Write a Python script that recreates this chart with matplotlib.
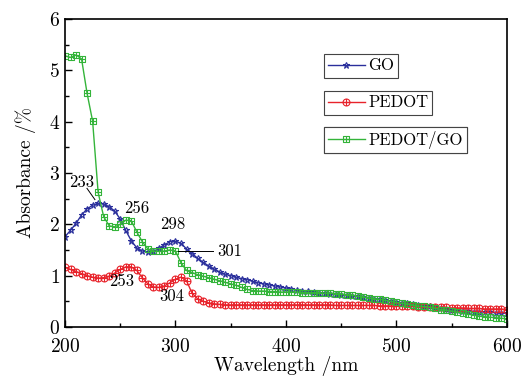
import matplotlib
matplotlib.use("Agg")
import matplotlib.pyplot as plt
from matplotlib.path import Path
from matplotlib.ticker import MultipleLocator

plt.rcParams['font.family'] = ['cmr10', 'DejaVu Serif']
plt.rcParams['mathtext.fontset'] = 'cm'
plt.rcParams['axes.formatter.use_mathtext'] = True

# wavelength grid (nm)
wavelength = [200, 205, 210, 215, 220, 225, 230, 235, 240, 245,
              250, 255, 260, 265, 270, 275, 280, 285, 290, 295,
              300, 305, 310, 315, 320, 325, 330, 335, 340, 345,
              350, 355, 360, 365, 370, 375, 380, 385, 390, 395,
              400, 405, 410, 415, 420, 425, 430, 435, 440, 445,
              450, 455, 460, 465, 470, 475, 480, 485, 490, 495,
              500, 505, 510, 515, 520, 525, 530, 535, 540, 545,
              550, 555, 560, 565, 570, 575, 580, 585, 590, 595, 600]

go = [1.76, 1.88, 2.02, 2.18, 2.30, 2.37, 2.41, 2.40, 2.34, 2.26,
      2.10, 1.88, 1.68, 1.54, 1.48, 1.46, 1.47, 1.53, 1.60, 1.66,
      1.67, 1.63, 1.52, 1.43, 1.34, 1.26, 1.19, 1.13, 1.07, 1.03,
      1.00, 0.97, 0.94, 0.92, 0.89, 0.86, 0.84, 0.82, 0.80, 0.78,
      0.76, 0.74, 0.72, 0.71, 0.70, 0.68, 0.67, 0.66, 0.65, 0.64,
      0.63, 0.62, 0.61, 0.60, 0.58, 0.57, 0.55, 0.54, 0.52, 0.50,
      0.49, 0.47, 0.46, 0.44, 0.43, 0.41, 0.40, 0.38, 0.36, 0.35,
      0.34, 0.33, 0.32, 0.31, 0.30, 0.30, 0.29, 0.29, 0.28, 0.27, 0.27]

pedot = [1.16, 1.12, 1.08, 1.04, 1.00, 0.97, 0.95, 0.96, 0.99, 1.05,
         1.12, 1.17, 1.17, 1.10, 0.96, 0.84, 0.78, 0.77, 0.80, 0.86,
         0.93, 0.97, 0.90, 0.66, 0.55, 0.50, 0.47, 0.45, 0.44, 0.43,
         0.43, 0.43, 0.43, 0.43, 0.43, 0.43, 0.43, 0.43, 0.43, 0.43,
         0.43, 0.43, 0.43, 0.43, 0.43, 0.43, 0.43, 0.43, 0.43, 0.42,
         0.42, 0.42, 0.42, 0.42, 0.42, 0.42, 0.42, 0.41, 0.41, 0.41,
         0.41, 0.40, 0.40, 0.40, 0.39, 0.39, 0.39, 0.38, 0.38, 0.38,
         0.37, 0.37, 0.37, 0.36, 0.36, 0.36, 0.35, 0.35, 0.35, 0.35, 0.34]

pedot_go = [5.28, 5.25, 5.30, 5.22, 4.55, 4.01, 2.62, 2.15, 1.97, 1.95,
            2.00, 2.08, 2.07, 1.85, 1.66, 1.52, 1.48, 1.47, 1.48, 1.50,
            1.48, 1.25, 1.10, 1.06, 1.02, 0.99, 0.96, 0.93, 0.90, 0.87,
            0.84, 0.81, 0.77, 0.73, 0.71, 0.70, 0.70, 0.69, 0.69, 0.68,
            0.68, 0.68, 0.68, 0.67, 0.67, 0.67, 0.67, 0.66, 0.66, 0.65,
            0.64, 0.63, 0.62, 0.60, 0.59, 0.57, 0.55, 0.54, 0.52, 0.50,
            0.48, 0.46, 0.45, 0.43, 0.41, 0.40, 0.38, 0.36, 0.34, 0.33,
            0.31, 0.29, 0.27, 0.25, 0.23, 0.21, 0.20, 0.19, 0.18, 0.17, 0.16]

# peak labels: (text, x, y)
peak_labels = [("233", 215, 2.81), ("256", 265, 2.31), ("298", 297.5, 1.99),
               ("301", 349, 1.47), ("253", 251.5, 0.88), ("304", 296.6, 0.59)]

# custom markers: circle with plus, square with plus
circ = Path.unit_circle()
cross = Path([(-1, 0), (1, 0), (0, -1), (0, 1)],
             [Path.MOVETO, Path.LINETO, Path.MOVETO, Path.LINETO])
oplus = Path.make_compound_path(circ, cross)
sq = Path([(-1, -1), (1, -1), (1, 1), (-1, 1), (-1, -1)],
          [Path.MOVETO, Path.LINETO, Path.LINETO, Path.LINETO, Path.CLOSEPOLY])
splus = Path.make_compound_path(sq, cross)

blue = '#2a2f9c'
red = '#e8232b'
green = '#34b43a'

fig = plt.figure(figsize=(5.22, 3.78), dpi=100)
ax = fig.add_axes([0.1245, 0.135, 0.8465, 0.815])

l1, = ax.plot(wavelength, go, color=blue, lw=1.0, marker='*', ms=5,
              mfc='none', mec=blue, mew=0.8, label='GO')
l2, = ax.plot(wavelength, pedot, color=red, lw=1.0, marker=oplus, ms=5,
              mfc='none', mec=red, mew=0.8, label='PEDOT')
l3, = ax.plot(wavelength, pedot_go, color=green, lw=1.0, marker=splus, ms=5,
              mfc='none', mec=green, mew=0.8, label='PEDOT/GO')

ax.set_xlim(200, 600)
ax.set_ylim(0, 6)
ax.xaxis.set_major_locator(MultipleLocator(100))
ax.xaxis.set_minor_locator(MultipleLocator(50))
ax.yaxis.set_major_locator(MultipleLocator(1))
ax.yaxis.set_minor_locator(MultipleLocator(0.5))
ax.tick_params(which='both', direction='in', top=False, right=False,
               labelsize=14, width=1.0)
ax.tick_params(which='major', length=5)
ax.tick_params(which='minor', length=3)
ax.tick_params(axis='x', pad=8)
for s in ax.spines.values():
    s.set_linewidth(1.2)
ax.set_xlabel('Wavelength /nm', fontsize=14, labelpad=0)
ax.set_ylabel('Absorbance /%', fontsize=14, labelpad=9)

for txt, x, y in peak_labels:
    ax.text(x, y, txt, fontsize=12, ha='center', va='center')
ax.plot([219.9, 227.1], [2.70, 2.48], color='black', lw=0.7)
ax.plot([302, 333.6], [1.47, 1.47], color='black', lw=0.7)

# separate boxed legend entries
legend_pos = [(l1, 0.586, 0.848), (l2, 0.586, 0.728), (l3, 0.586, 0.606)]
for h, x, y in legend_pos:
    leg = ax.legend(handles=[h], loc='center left', bbox_to_anchor=(x, y),
                    fontsize=12, numpoints=1, fancybox=False, framealpha=1,
                    edgecolor='#444444', handlelength=2.2, handletextpad=0.2,
                    borderpad=0.25, borderaxespad=0)
    leg.get_frame().set_linewidth(0.8)
    ax.add_artist(leg)

fig.savefig('out.png', dpi=100)
